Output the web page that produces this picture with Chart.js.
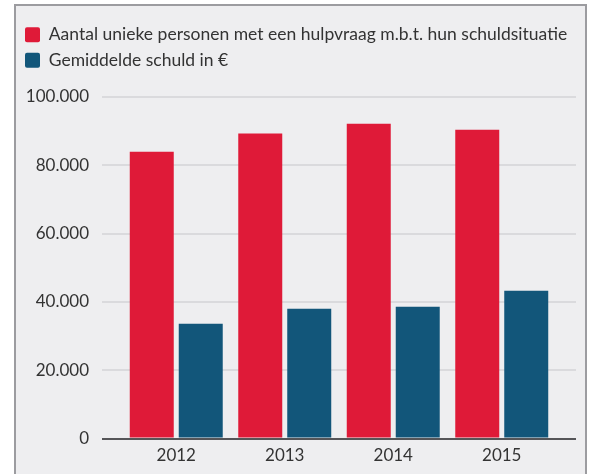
<!DOCTYPE html>
<html>
<head>
<meta charset="utf-8">
<script src="https://cdn.jsdelivr.net/npm/chart.js@4"></script>
<style>
    body { margin: 0; background: #ffffff; }
    #panel {
        position: absolute;
        left: 14px;
        top: 4px;
        width: 573px;
        height: 480px;
        box-sizing: border-box;
        border: 2px solid #9c9ca0;
        background: #eeeef0;
    }
    #debtChart { position: absolute; left: 0; top: 0; }
</style>
</head>
<body>
<div id="panel"></div>
<canvas id="debtChart" width="590" height="474"></canvas>
<script>
const years = ['2012', '2013', '2014', '2015'];
const persons = [84000, 89300, 92200, 90400];
const avgDebt = [33600, 38000, 38600, 43300];
const seriesNames = ['Aantal unieke personen met een hulpvraag m.b.t. hun schuldsituatie', 'Gemiddelde schuld in €'];

const textColor = '#333333';
const fontFamily = 'Lato';

function formatThousands(v) {
    return String(v).replace(/\B(?=(\d{3})+(?!\d))/g, '.');
}

function gridColor(context) {
    return context.tick && context.tick.value === 0 ? '#555558' : '#dadadd';
}

// make room between legend and plot
const legendSpace = {
    id: 'legendSpace',
    beforeInit(chart) {
        const origFit = chart.legend.fit;
        chart.legend.fit = function fit() {
            origFit.bind(chart.legend)();
            this.height = 79;
        };
    }
};

const ctx = document.getElementById('debtChart').getContext('2d');
const chart = new Chart(ctx, {
    type: 'bar',
    data: {
        labels: years,
        datasets: [{
            label: seriesNames[0],
            data: persons,
            backgroundColor: '#df1a38',
            categoryPercentage: 0.903,
            barPercentage: 0.898
        }, {
            label: seriesNames[1],
            data: avgDebt,
            backgroundColor: '#12567a',
            categoryPercentage: 0.903,
            barPercentage: 0.898
        }]
    },
    options: {
        responsive: false,
        animation: false,
        layout: {
            padding: { left: 17, top: 18, right: 14, bottom: 1 }
        },
        plugins: {
            legend: {
                position: 'top',
                align: 'start',
                labels: {
                    boxWidth: 15,
                    boxHeight: 15,
                    padding: 8,
                    useBorderRadius: true,
                    borderRadius: 2,
                    color: textColor,
                    font: { family: fontFamily, size: 17.5 }
                }
            },
            tooltip: { enabled: false }
        },
        scales: {
            x: {
                grid: { display: false, drawTicks: false },
                border: { display: false },
                ticks: {
                    padding: 7,
                    color: textColor,
                    font: { family: fontFamily, size: 17 }
                }
            },
            y: {
                min: 0,
                max: 100000,
                border: { display: false },
                grid: {
                    color: gridColor,
                    lineWidth: 2,
                    tickLength: 20
                },
                ticks: {
                    stepSize: 20000,
                    padding: 13,
                    color: textColor,
                    font: { family: fontFamily, size: 17 },
                    callback: (value) => formatThousands(value)
                },
                afterFit(scale) {
                    scale.width = 105;
                }
            },
            y2: {
                position: 'right',
                min: 0,
                max: 100000,
                border: { display: false },
                grid: {
                    color: gridColor,
                    lineWidth: 2,
                    drawOnChartArea: false,
                    tickLength: 20
                },
                ticks: { display: false, stepSize: 20000 },
                afterFit(scale) {
                    scale.width = 20;
                }
            }
        }
    },
    plugins: [legendSpace]
});
</script>
</body>
</html>
